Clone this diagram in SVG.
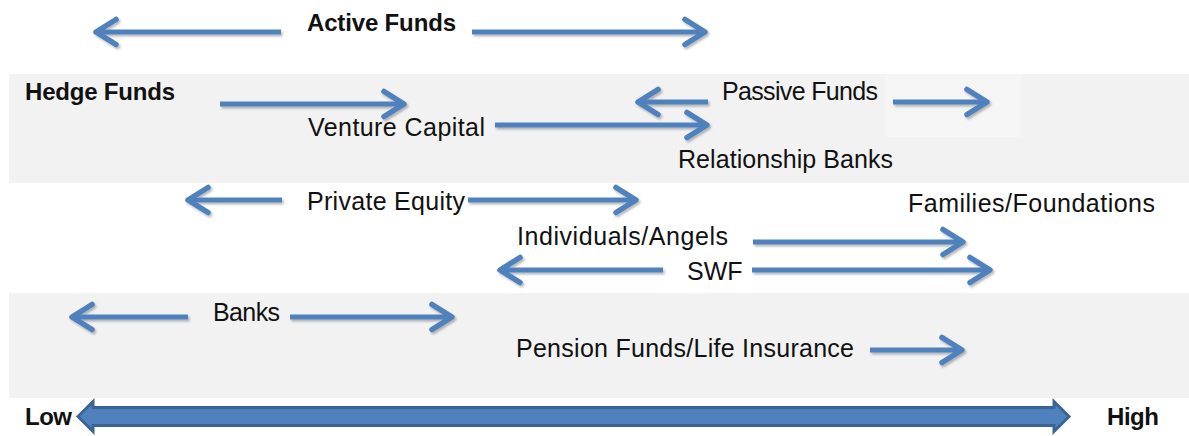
<svg xmlns="http://www.w3.org/2000/svg" width="1189" height="436" viewBox="0 0 1189 436">
  <style>
    .band { fill: #f2f2f2; }
    .lbl { font-family: "Liberation Sans", Arial, sans-serif; font-size: 25px; fill: #111; }
    .bold { font-weight: bold; font-size: 24px; }
    .conn line { stroke: #4f81bd; stroke-width: 5; marker-end: url(#open-arrow); }
    .axis { fill: #4f81bd; stroke: #3a6496; stroke-width: 3; stroke-linejoin: miter; }
  </style>
  <defs>
    <marker id="open-arrow" markerUnits="userSpaceOnUse" viewBox="-24 -16 28 32" markerWidth="28" markerHeight="32" refX="0" refY="0" orient="auto">
      <path d="M-20,-12.5 L0,0 L-20,12.5" fill="none" stroke="#4f81bd" stroke-width="5.5" stroke-linecap="round" stroke-linejoin="round"/>
    </marker>
    <filter id="soft-shadow" x="-5%" y="-50%" width="110%" height="200%">
      <feDropShadow dx="1.5" dy="2" stdDeviation="1.2" flood-color="#000" flood-opacity="0.28"/>
    </filter>
  </defs>

  <rect width="1189" height="436" fill="#ffffff"/>

  <!-- shaded rows -->
  <g id="bands">
    <rect class="band" x="9" y="74" width="1180" height="109"/>
    <rect x="885" y="74" width="136" height="63" fill="#f5f5f5"/>
    <rect class="band" x="9" y="293" width="1180" height="105"/>
  </g>

  <!-- range arrows -->
  <g id="connectors" class="conn" filter="url(#soft-shadow)">
    <line x1="281" y1="32" x2="96" y2="32"/>
    <line x1="472" y1="32" x2="705" y2="32"/>
    <line x1="220" y1="104" x2="404" y2="104"/>
    <line x1="708" y1="102" x2="638" y2="102"/>
    <line x1="893" y1="102" x2="987" y2="102"/>
    <line x1="495" y1="125" x2="707" y2="125"/>
    <line x1="282" y1="200" x2="188" y2="200"/>
    <line x1="468" y1="200" x2="636" y2="200"/>
    <line x1="753" y1="242" x2="963" y2="242"/>
    <line x1="663" y1="270" x2="500" y2="270"/>
    <line x1="752" y1="270" x2="990" y2="270"/>
    <line x1="188" y1="317" x2="72" y2="317"/>
    <line x1="290" y1="317" x2="452" y2="317"/>
    <line x1="870" y1="350" x2="962" y2="350"/>
  </g>

  <!-- low / high scale -->
  <g id="scale-axis">
    <path class="axis" d="M78,416.5 L93,401.5 L93,407.5 L1054,407.5 L1054,401.5 L1069,416.5 L1054,431.5 L1054,425.5 L93,425.5 L93,431.5 Z"/>
  </g>

  <g id="active-funds"><text class="lbl bold" x="307" y="31" textLength="149">Active Funds</text></g>
  <g id="hedge-funds"><text class="lbl bold" x="25" y="100" textLength="150">Hedge Funds</text></g>
  <g id="passive-funds"><text class="lbl" x="722" y="100" textLength="156">Passive Funds</text></g>
  <g id="venture-capital"><text class="lbl" x="308" y="136" textLength="177">Venture Capital</text></g>
  <g id="relationship-banks"><text class="lbl" x="678" y="168" textLength="215">Relationship Banks</text></g>
  <g id="private-equity"><text class="lbl" x="307" y="210" textLength="158">Private Equity</text></g>
  <g id="families-foundations"><text class="lbl" x="908" y="212" textLength="247">Families/Foundations</text></g>
  <g id="individuals-angels"><text class="lbl" x="517" y="245" textLength="211">Individuals/Angels</text></g>
  <g id="swf"><text class="lbl" x="687" y="280">SWF</text></g>
  <g id="banks"><text class="lbl" x="213" y="321" textLength="67">Banks</text></g>
  <g id="pension-life"><text class="lbl" x="516" y="357" textLength="338">Pension Funds/Life Insurance</text></g>
  <g id="low"><text class="lbl bold" x="25" y="425" textLength="47">Low</text></g>
  <g id="high"><text class="lbl bold" x="1107" y="425" textLength="52">High</text></g>
</svg>
